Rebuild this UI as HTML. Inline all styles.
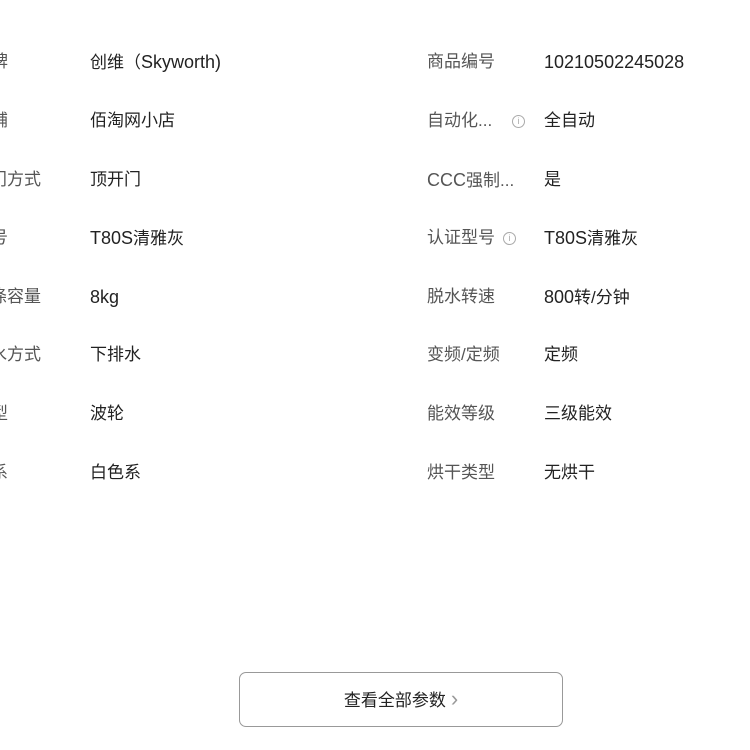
<!DOCTYPE html>
<html><head><meta charset="utf-8"><style>
html,body{margin:0;padding:0;background:#fff;width:750px;height:750px;overflow:hidden;position:relative;font-family:"Liberation Sans","Noto Sans CJK SC",sans-serif;font-size:17px;}
.t{position:absolute;white-space:nowrap;line-height:20px;}
.l{color:#555;}
.v{color:#222;}
.e{font-size:18px;}
.i{position:absolute;width:11px;height:11px;border:1px solid #aaa;border-radius:50%;color:#aaa;font-size:9px;line-height:11px;text-align:center;}
.btn{position:absolute;left:239px;top:672px;width:324px;height:55px;border:1.5px solid #999;border-radius:7px;box-sizing:border-box;text-align:center;line-height:52px;color:#222;font-size:17px;}
.btn span{color:#999;margin-left:5px;font-size:22px;}
</style></head><body>
<div class="t l" style="left:-26px;top:52px">品牌</div><div class="t v" style="left:90px;top:52px">创维（<span class="e">Skyworth)</span></div>
<div class="t l" style="left:-26px;top:111px">店铺</div><div class="t v" style="left:90px;top:111px">佰淘网小店</div>
<div class="t l" style="left:-27px;top:170px">开门方式</div><div class="t v" style="left:90px;top:170px">顶开门</div>
<div class="t l" style="left:-26px;top:228px">型号</div><div class="t v" style="left:90px;top:228px"><span class="e">T80S</span>清雅灰</div>
<div class="t l" style="left:-27px;top:287px">洗涤容量</div><div class="t v" style="left:90px;top:287px"><span class="e">8kg</span></div>
<div class="t l" style="left:-27px;top:345px">排水方式</div><div class="t v" style="left:90px;top:345px">下排水</div>
<div class="t l" style="left:-26px;top:404px">类型</div><div class="t v" style="left:90px;top:404px">波轮</div>
<div class="t l" style="left:-26px;top:463px">色系</div><div class="t v" style="left:90px;top:463px">白色系</div>

<div class="t l" style="left:427px;top:52px">商品编号</div><div class="t v" style="left:544px;top:52px"><span class="e">10210502245028</span></div>
<div class="t l" style="left:427px;top:111px">自动化...</div><div class="i" style="left:512px;top:115px">i</div><div class="t v" style="left:544px;top:111px">全自动</div>
<div class="t l" style="left:427px;top:170px"><span class="e">CCC</span>强制...</div><div class="t v" style="left:544px;top:170px">是</div>
<div class="t l" style="left:427px;top:228px">认证型号</div><div class="i" style="left:503px;top:232px">i</div><div class="t v" style="left:544px;top:228px"><span class="e">T80S</span>清雅灰</div>
<div class="t l" style="left:427px;top:287px">脱水转速</div><div class="t v" style="left:544px;top:287px"><span class="e">800</span>转/分钟</div>
<div class="t l" style="left:427px;top:345px">变频/定频</div><div class="t v" style="left:544px;top:345px">定频</div>
<div class="t l" style="left:427px;top:404px">能效等级</div><div class="t v" style="left:544px;top:404px">三级能效</div>
<div class="t l" style="left:427px;top:463px">烘干类型</div><div class="t v" style="left:544px;top:463px">无烘干</div>

<div class="btn">查看全部参数<span>&#8250;</span></div>
</body></html>
